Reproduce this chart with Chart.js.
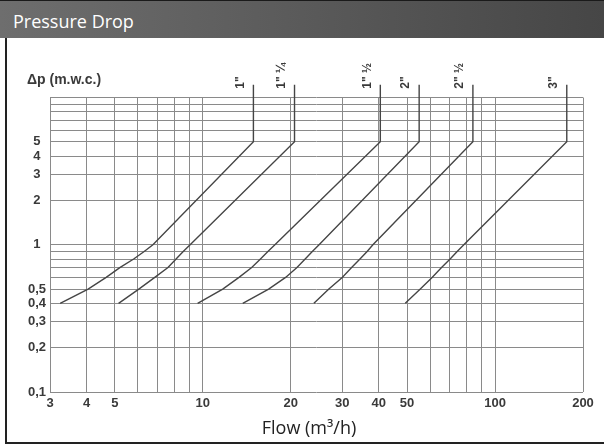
<!DOCTYPE html>
<html>
<head>
<meta charset="utf-8">
<script src="https://cdn.jsdelivr.net/npm/chart.js@4.4.1/dist/chart.umd.min.js"></script>
<style>
  html, body { margin: 0; padding: 0; width: 604px; height: 446px; overflow: hidden; background: #fff; }
  #c { position: absolute; left: 0; top: 0; }
  #head { position: absolute; left: 0; top: 0; width: 604px; height: 37px; border-top: 1px solid #1a1a1a;
          background: linear-gradient(to right, #6e6e6e, #464646); }
  #head span { position: absolute; left: 13px; top: 8px; color: #fff; font: 18px "Open Sans", sans-serif; }
  #frame { position: absolute; left: 5px; top: 38px; width: 640px; height: 404px;
           border-left: 2px solid #222; border-bottom: 2px solid #222; pointer-events: none; }
</style>
</head>
<body>
<canvas id="c" width="604" height="446"></canvas>
<div id="frame"></div>
<div id="head"><span>Pressure Drop</span></div>
<script>
// Pressure drop vs flow per pipe size; log-log.
const sizes = ['1"', '1" ¼', '1" ½', '2"', '2" ½', '3"'];
const dpY = [0.4, 0.5, 0.6, 0.7, 0.8, 0.9, 1, 5, 12.2];  // same y steps for every curve, last = top of riser
const flow1 = [3.25, 4.05, 4.67, 5.2, 5.8, 6.3, 6.75, 14.9, 14.9];
const flow114 = [5.15, 6.04, 6.85, 7.6, 8.1, 8.57, 9.05, 20.6, 20.6];
const flow112 = [9.6, 11.7, 13.3, 14.7, 15.75, 16.7, 17.65, 40.5, 40.5];
const flow2 = [13.7, 16.8, 19.2, 21.0, 22.4, 23.7, 25.0, 55, 55];
const flow212 = [24.0, 27.0, 30.0, 32.3, 34.5, 36.5, 38.2, 84, 84];
const flow3 = [49.3, 55.5, 60.9, 65.6, 70.2, 74.2, 78.2, 176, 176];
const flows = [flow1, flow114, flow112, flow2, flow212, flow3];

const xGrid = [3, 4, 5, 6, 7, 8, 9, 10, 20, 30, 40, 50, 60, 70, 80, 90, 100, 200];
const xLabels = [3, 4, 5, 10, 20, 30, 40, 50, 100, 200];
const yGrid = [0.1, 0.2, 0.3, 0.4, 0.5, 0.6, 0.7, 0.8, 0.9, 1, 2, 3, 4, 5, 6, 7, 8, 9, 10];
const yLabels = [0.1, 0.2, 0.3, 0.4, 0.5, 1, 2, 3, 4, 5];

const INK = "#3a3a3a", GRID = "#8a8a8a";
const tickFont = {family: "'Liberation Sans', Arial, sans-serif", size: 13, weight: "bold"};

const texts = {
  id: "texts",
  afterDraw(chart) {
    const ctx = chart.ctx, xs = chart.scales.x, ys = chart.scales.y;
    ctx.save();
    ctx.fillStyle = INK;
    ctx.font = "bold 14px 'Liberation Sans', Arial, sans-serif";
    ctx.textAlign = "left"; ctx.textBaseline = "alphabetic";
    ctx.fillText("Δp (m.w.c.)", 27, 84);
    ctx.font = "bold 12px 'Liberation Sans', Arial, sans-serif";
    sizes.forEach((s, i) => {
      const f = flows[i];
      const px = xs.getPixelForValue(f[f.length - 1]), py = ys.getPixelForValue(dpY[dpY.length - 1]);
      ctx.save();
      ctx.translate(px - 13, py + 4);
      ctx.rotate(-Math.PI / 2);
      ctx.textBaseline = "middle";
      ctx.fillText(s, 0, 0);
      ctx.restore();
    });
    ctx.fillStyle = "#222";
    ctx.font = "18px 'Open Sans', sans-serif";
    ctx.textAlign = "center";
    ctx.fillText("Flow (m³/h)", 309, 434);
    ctx.restore();
  }
};

new Chart(document.getElementById("c"), {
  type: "scatter",
  data: {
    datasets: flows.map((f, i) => ({
      label: sizes[i],
      data: f.map((x, j) => ({x, y: dpY[j]})),
      showLine: true, borderColor: "#454545", borderWidth: 1.4, pointRadius: 0, tension: 0, clip: false
    }))
  },
  options: {
    responsive: false, animation: false, events: [],
    layout: {padding: {left: 26, top: 97.5, right: 21, bottom: 0}},
    plugins: {legend: {display: false}, tooltip: {enabled: false}},
    scales: {
      x: {
        type: "logarithmic", min: 3, max: 200, bounds: "data",
        afterBuildTicks: s => { s.ticks = xGrid.map(v => ({value: v})); },
        afterFit: s => { s.height = 54; },
        border: {display: false},
        grid: {color: GRID, lineWidth: 1, drawTicks: false},
        ticks: {autoSkip: false, maxRotation: 0, padding: 4, color: INK, font: tickFont,
                callback: v => xLabels.includes(v) ? String(v) : ""}
      },
      y: {
        type: "logarithmic", min: 0.1, max: 10, bounds: "data",
        afterBuildTicks: s => { s.ticks = yGrid.map(v => ({value: v})); },
        afterFit: s => { s.width = 24; },
        border: {display: false},
        grid: {color: GRID, lineWidth: 1, drawTicks: false},
        ticks: {autoSkip: false, padding: 4, crossAlign: "center", color: INK, font: tickFont,
                callback: v => yLabels.includes(v) ? String(v).replace(".", ",") : ""}
      }
    }
  },
  plugins: [texts]
});
</script>
</body>
</html>
